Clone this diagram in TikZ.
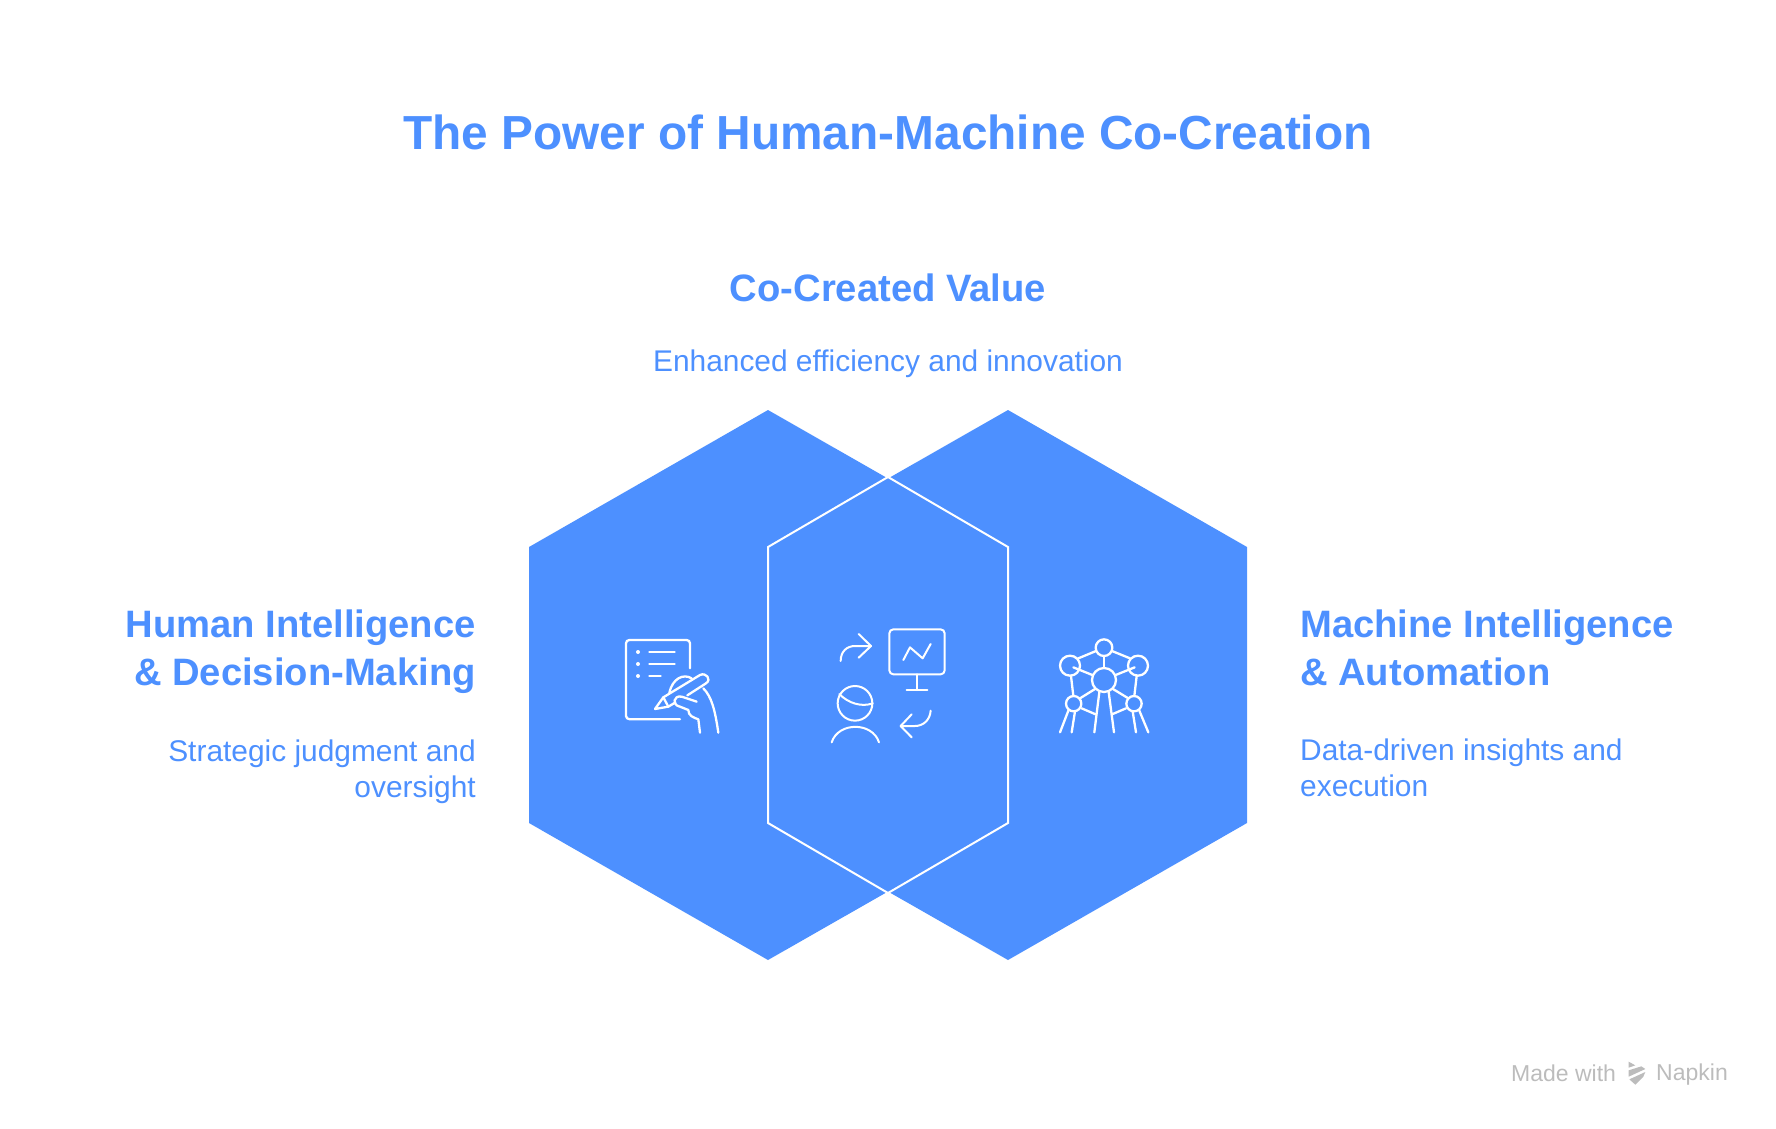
\documentclass[tikz,border=0pt]{standalone}
\usepackage{fontspec}
\setmainfont{Liberation Sans}
\usetikzlibrary{positioning}
\definecolor{hex_blue}{RGB}{77, 144, 255}
\definecolor{mark_gray}{RGB}{188, 188, 188}

\begin{document}
\begin{tikzpicture}[
    % Styles
    x=1pt, y=-1pt,
    line cap=round,
    line join=round,
    title_text/.style={
        text=hex_blue,
        font=\fontsize{47.8}{56}\selectfont\bfseries,
        inner sep=0pt
    },
    head_text/.style={
        text=hex_blue,
        font=\fontsize{38.2}{48}\selectfont\bfseries,
        inner sep=0pt
    },
    sub_text/.style={
        text=hex_blue,
        font=\fontsize{29.9}{35.5}\selectfont,
        inner sep=0pt
    },
    mark_text/.style={
        text=mark_gray,
        font=\fontsize{23}{28}\selectfont,
        inner sep=0pt
    },
    hexagon/.style={
        fill=hex_blue
    },
    icon/.style={
        draw=white,
        line width=2.3pt
    },
    icon_thin/.style={
        draw=white,
        line width=2pt
    }
]
\useasboundingbox (0,0) rectangle (1776,1128);

% --- HEXAGONS ---
\fill[hexagon] (529,547) -- (768,410) -- (1008,547) -- (1008,823) -- (768,960) -- (529,823) -- cycle;
\fill[hexagon] (768,547) -- (1008,410) -- (1247,547) -- (1247,823) -- (1008,960) -- (768,823) -- cycle;
\draw[white, line width=2pt, line join=miter] (768,547) -- (888,477) -- (1008,547) -- (1008,823) -- (888,893) -- (768,823) -- cycle;

% --- TEXT ---
\node[title_text] (title) at (888,132) {The Power of Human-Machine Co-Creation};

% 1. Top
\node[head_text] (value_head) at (888,288) {Co-Created Value};
\node[sub_text] (value_sub) at (888,364) {Enhanced efficiency and innovation};

% 2. Left
\node[head_text, align=right, anchor=east] (human_head) at (476,652) {Human Intelligence\\\& Decision-Making};
\node[sub_text, align=right, anchor=east] (human_sub) at (476,772) {Strategic judgment and\\oversight};

% 3. Right
\node[head_text, align=left, anchor=west] (machine_head) at (1300,648) {Machine Intelligence\\\& Automation};
\node[sub_text, align=left, anchor=west] (machine_sub) at (1300,768) {Data-driven insights and\\execution};

% --- ICONS ---

% Document and pen
\begin{scope}[shift={(600,610)}, x=0.3333pt, y=-0.3333pt]
    \draw[icon] (270,175) -- (270,100) to[out=90, in=0] (260,90) -- (88,90) to[out=180, in=90] (78,100) -- (78,318) to[out=-90, in=180] (90,328) -- (240,328);
    \foreach \ya in {126,162,198} {
        \fill[white] (114,\ya) circle (6);
    }
    \draw[icon] (148,126) -- (224,126);
    \draw[icon] (148,162) -- (224,162);
    \draw[icon] (148,198) -- (182,198);
    % pen
    \draw[icon] (225,278) -- (205,290) -- (165,297) -- (190,262) -- (300,195) .. controls (318,186) and (336,208) .. (318,220) -- (262,256);
    \draw[icon] (190,262) -- (205,290);
    % hand
    \draw[icon] (208,248) .. controls (218,205) and (250,190) .. (275,205);
    \draw[icon] (290,275) -- (245,260) .. controls (220,255) and (215,285) .. (240,290) -- (265,300) .. controls (265,318) and (280,322) .. (295,328) -- (300,368);
    \draw[icon] (310,235) .. controls (335,260) and (345,300) .. (355,368);
\end{scope}

% Person, screen and arrows
\begin{scope}[shift={(810,610)}, x=0.3333pt, y=-0.3333pt]
    \draw[icon_thin, rounded corners=4pt] (238,58) rectangle (404,193);
    \draw[icon_thin] (320,193) -- (320,240);
    \draw[icon_thin] (290,240) -- (352,240);
    \draw[icon_thin] (280,150) -- (300,112) -- (338,145) -- (362,102);
    \draw[icon_thin] (92,153) .. controls (92,125) and (110,108) .. (135,108) -- (183,108);
    \draw[icon_thin] (146,72) -- (183,108) -- (146,143);
    \draw[icon_thin] (362,302) .. controls (360,330) and (340,348) .. (315,348) -- (272,348);
    \draw[icon_thin] (305,313) -- (272,348) -- (305,382);
    \draw[icon_thin] (135,280) circle (52);
    \draw[icon_thin] (88,252) .. controls (115,280) and (155,292) .. (188,280);
    \draw[icon_thin] (65,397) .. controls (85,335) and (187,335) .. (207,397);
\end{scope}

% Atom tower
\begin{scope}[shift={(1040,620)}, x=0.3333pt, y=-0.3333pt]
    \draw[icon] (192,83) circle (25);
    \draw[icon] (90,137) circle (30);
    \draw[icon] (294,137) circle (30);
    \draw[icon] (192,180) circle (36);
    \draw[icon] (101,251) circle (23);
    \draw[icon] (282,251) circle (23);
    \draw[icon] (115,115) -- (168,93);
    \draw[icon] (216,93) -- (270,115);
    \draw[icon] (192,108) -- (192,144);
    \draw[icon] (100,142) -- (157,165);
    \draw[icon] (284,142) -- (227,165);
    \draw[icon] (93,168) -- (100,228);
    \draw[icon] (290,168) -- (283,228);
    \draw[icon] (165,207) -- (120,235);
    \draw[icon] (219,207) -- (265,235);
    \draw[icon] (125,265) -- (167,283);
    \draw[icon] (258,265) -- (216,283);
    \draw[icon] (178,216) -- (163,337);
    \draw[icon] (206,216) -- (222,337);
    \draw[icon] (85,272) -- (60,337);
    \draw[icon] (105,274) -- (95,337);
    \draw[icon] (278,274) -- (288,337);
    \draw[icon] (298,272) -- (325,337);
\end{scope}

% --- WATERMARK ---
\node[mark_text, anchor=west] (made) at (1511,1073) {Made with};
\node[mark_text, anchor=west] (napkin) at (1656,1075) {Napkin};
\begin{scope}[shift={(1490,1045)}, x=0.3333pt, y=-0.3333pt]
    \fill[mark_gray] (416,50) -- (436,61) -- (416,68) -- cycle;
    \fill[mark_gray] (416,76) -- (454,64) -- (466,72) -- (416,95) -- cycle;
    \fill[mark_gray] (418,103) -- (466,81) -- (460,95) -- (436,119) -- cycle;
\end{scope}

\end{tikzpicture}
\end{document}
